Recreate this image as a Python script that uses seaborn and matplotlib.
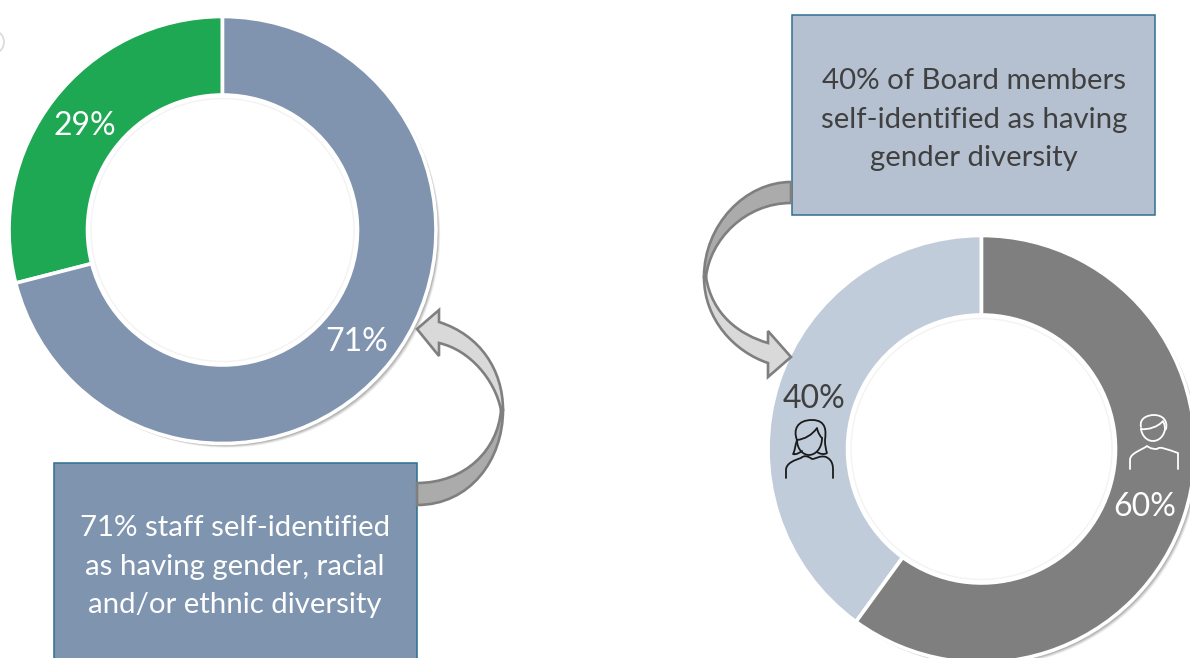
import matplotlib
matplotlib.use("Agg")
import matplotlib.pyplot as plt
import seaborn as sns
from matplotlib.patches import Rectangle, PathPatch, Wedge, Arc
from matplotlib.path import Path

# Shares of each group, in percent
staff_labels = ["Diverse staff", "Other staff"]
staff_values = [29, 71]
board_labels = ["Women", "Men"]
board_values = [40, 60]

staff_caption = ["71% staff self-identified", "as having gender, racial", "and/or ethnic diversity"]
board_caption = ["40% of Board members", "self-identified as having", "gender diversity"]

staff_colors = ["#1EA853", "#8094AF"]
board_colors = ["#C1CCDA", "#7F7F7F"]

W, H = 1190, 658
sns.set_theme(style="white")
plt.rcParams["font.family"] = ["Lato", "DejaVu Sans"]

fig = plt.figure(figsize=(W / 100, H / 100), dpi=100, facecolor="white")
ax = fig.add_axes([0, 0, 1, 1])


def Y(py):
    return H - py


def donut(values, colors, cx, cy, r_out, r_in):
    # soft drop shadow beneath the ring
    for off, a in ((6, 0.08), (5, 0.12), (4, 0.16), (3, 0.22), (2, 0.28)):
        ax.add_patch(Wedge((cx + off * 0.7, Y(cy) - off * 0.7), r_out, 0, 360,
                           width=3, color="#555555", alpha=a, lw=0, zorder=1))
    ax.pie(values, colors=colors, center=(cx, Y(cy)), radius=r_out, startangle=90,
           counterclock=True, wedgeprops=dict(width=r_out - r_in, edgecolor="white", linewidth=2.6),
           frame=True, normalize=True)
    for p in ax.patches[-len(values):]:
        p.set_zorder(2)
    # faint shadow just inside the hole
    ax.add_patch(Arc((cx, Y(cy)), 2 * r_in - 7, 2 * r_in - 7, theta1=0, theta2=360,
                     color="#F3F3F3", lw=1.0, zorder=3))


def curved_shape(verts, codes, face):
    pts = [(x, Y(y)) for x, y in verts]
    ax.add_patch(PathPatch(Path(pts, codes), facecolor=face, edgecolor="#7F7F7F",
                           linewidth=1.9, joinstyle="miter", zorder=5))


def line_icon(segments, color):
    for verts, codes in segments:
        pts = [(x, Y(y)) for x, y in verts]
        ax.add_patch(PathPatch(Path(pts, codes), facecolor="none", edgecolor=color,
                               linewidth=1.3, capstyle="round", joinstyle="round", zorder=7))


M, L, C, Z = Path.MOVETO, Path.LINETO, Path.CURVE4, Path.CLOSEPOLY

donut(staff_values, staff_colors, 222.5, 230, 213.5, 135)
donut(board_values, board_colors, 981.5, 449, 213.5, 134)

# caption boxes
ax.add_patch(Rectangle((54, Y(680)), 363, 217, facecolor="#7F94AF", edgecolor="#2F6F8F", lw=1.1, zorder=4))
ax.add_patch(Rectangle((792, Y(215)), 363, 200, facecolor="#B5C1D1", edgecolor="#2F6F8F", lw=1.1, zorder=4))

# connector from the staff box up to the ring
curved_shape([(417, 483), (465, 483), (498, 450), (501, 410), (503, 410), (503, 460), (470, 505), (417, 505), (417, 483)],
             [M, C, C, C, L, C, C, C, Z], "#ABABAB")
curved_shape([(503, 410), (503, 370), (480, 335), (439, 322), (439, 310), (417, 329), (439, 356), (439, 343),
              (470, 350), (495, 380), (501, 410), (503, 410)],
             [M, C, C, C, L, L, L, L, C, C, C, Z], "#D9D9D9")

# connector from the board box down to the ring
curved_shape([(791, 182), (745, 182), (704, 225), (704, 277), (706, 277), (710, 240), (745, 203), (791, 203), (791, 182)],
             [M, C, C, C, L, C, C, C, Z], "#ABABAB")
curved_shape([(704, 277), (704, 320), (735, 352), (768, 363), (768, 377), (791, 357), (768, 331), (768, 343),
              (740, 335), (712, 315), (706, 277), (704, 277)],
             [M, C, C, C, L, L, L, L, C, C, C, Z], "#D9D9D9")

# value labels on the rings
label_size = 23
ax.text(85, Y(126), f"{staff_values[0]}%", color="white", fontsize=label_size, ha="center", va="center", zorder=6)
ax.text(357, Y(342), f"{staff_values[1]}%", color="white", fontsize=label_size, ha="center", va="center", zorder=6)
ax.text(814, Y(399), f"{board_values[0]}%", color="#404040", fontsize=label_size, ha="center", va="center", zorder=6)
ax.text(1145, Y(507), f"{board_values[1]}%", color="white", fontsize=label_size, ha="center", va="center", zorder=6)

# caption text
for line, py in zip(staff_caption, (528, 567, 605)):
    ax.text(235, Y(py), line, color="white", fontsize=21.2, ha="center", va="center", zorder=6)
for line, py in zip(board_caption, (81, 120, 158)):
    ax.text(974, Y(py), line, color="#404040", fontsize=21.2, ha="center", va="center", zorder=6)

# person outline: woman
line_icon([
    ([(786, 478), (786, 470), (786, 463), (795, 460), (801, 458), (804, 455), (808, 456),
      (812, 459), (816, 459), (820, 455), (826, 457), (833, 460), (833, 467), (833, 470), (833, 478)],
     [M, L] + [C] * 12 + [L]),
    ([(797, 440), (793, 430), (797, 420), (812, 420), (827, 420), (826, 432), (825, 440),
      (825, 446), (826, 450), (827, 453), (824, 455), (820, 454), (817, 452)],
     [M] + [C] * 12),
    ([(797, 440), (795, 446), (795, 451), (793, 454), (796, 455), (799, 453), (802, 451)],
     [M] + [C] * 6),
    ([(797, 440), (805, 439), (812, 435), (817, 428), (818, 433), (820, 436), (822, 438)],
     [M] + [C] * 6),
    ([(797, 440), (797, 449), (803, 455), (809, 455), (815, 455), (822, 449), (822, 438)],
     [M] + [C] * 6),
], "#1A1A1A")

# person outline: man
line_icon([
    ([(1130, 469), (1130, 460), (1130, 453), (1142, 450), (1147, 446), (1151, 449), (1154, 449), (1157, 449),
      (1160, 446), (1166, 449), (1178, 453), (1178, 460), (1178, 469)],
     [M, L] + [C] * 9 + [L, L][:1] + [L]),
    ([(1141, 429), (1148, 430), (1158, 427), (1163, 421), (1165, 425), (1165, 428), (1165, 430)],
     [M] + [C] * 6),
    ([(1141, 427), (1139, 418), (1148, 415), (1154, 415), (1162, 415), (1168, 420), (1166, 429)],
     [M] + [C] * 6),
    ([(1141, 429), (1142, 436), (1147, 441), (1153, 441), (1159, 441), (1164, 436), (1165, 429)],
     [M] + [C] * 6),
], "white")

# faint ring remnant on the left margin
ax.add_patch(Arc((-8, Y(42)), 24, 24, theta1=-70, theta2=70, color="#D9D9D9", lw=1.2, zorder=1))

ax.set_xlim(0, W)
ax.set_ylim(0, H)
ax.set_aspect("equal")
ax.axis("off")
fig.savefig("out.png", dpi=100, facecolor="white")
